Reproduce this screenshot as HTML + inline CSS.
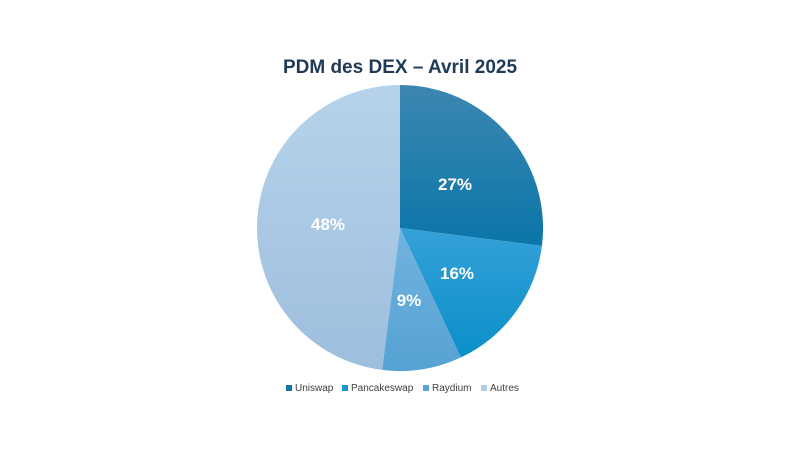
<!DOCTYPE html>
<html><head><meta charset="utf-8"><style>
body{margin:0;background:#fff;width:800px;height:450px;overflow:hidden;font-family:"Liberation Sans",sans-serif}
</style></head><body>
<svg width="800" height="450" viewBox="0 0 800 450">
<defs>
<linearGradient id="g1" x1="0" y1="0" x2="0" y2="1"><stop offset="0" stop-color="#3d86b2"/><stop offset="1" stop-color="#0a76a8"/></linearGradient>
<linearGradient id="g2" x1="0" y1="0" x2="0" y2="1"><stop offset="0" stop-color="#35a1d8"/><stop offset="1" stop-color="#0b8fc9"/></linearGradient>
<linearGradient id="g3" x1="0" y1="0" x2="0" y2="1"><stop offset="0" stop-color="#72b3df"/><stop offset="1" stop-color="#55a2d3"/></linearGradient>
<linearGradient id="g4" x1="0" y1="0" x2="0" y2="1"><stop offset="0" stop-color="#b6d3eb"/><stop offset="1" stop-color="#9dbedd"/></linearGradient>
</defs>
<text x="400" y="73" text-anchor="middle" font-size="19" font-weight="bold" fill="#1f3a56">PDM des DEX – Avril 2025</text>
<path d="M400 228 L400 85 A143 143 0 0 1 541.9 245.9 Z" fill="url(#g1)"/>
<path d="M400 228 L541.9 245.9 A143 143 0 0 1 460.9 357.4 Z" fill="url(#g2)"/>
<path d="M400 228 L460.9 357.4 A143 143 0 0 1 382.1 369.9 Z" fill="url(#g3)"/>
<path d="M400 228 L382.1 369.9 A143 143 0 0 1 257 228 A143 143 0 0 1 400 85 Z" fill="url(#g4)"/>
<g fill="#fff" font-size="17" font-weight="bold" text-anchor="middle">
<text x="455" y="190">27%</text>
<text x="457" y="279">16%</text>
<text x="409" y="306">9%</text>
<text x="328" y="230">48%</text>
</g>
<g font-size="10" fill="#404040">
<rect x="286" y="385" width="6" height="6" fill="#0e76a8"/><text x="295" y="391">Uniswap</text>
<rect x="342" y="385" width="6" height="6" fill="#1596d0"/><text x="351" y="391">Pancakeswap</text>
<rect x="423" y="385" width="6" height="6" fill="#5aa5d6"/><text x="432" y="391">Raydium</text>
<rect x="481" y="385" width="6" height="6" fill="#b0cfe8"/><text x="490" y="391">Autres</text>
</g>
</svg>
</body></html>
